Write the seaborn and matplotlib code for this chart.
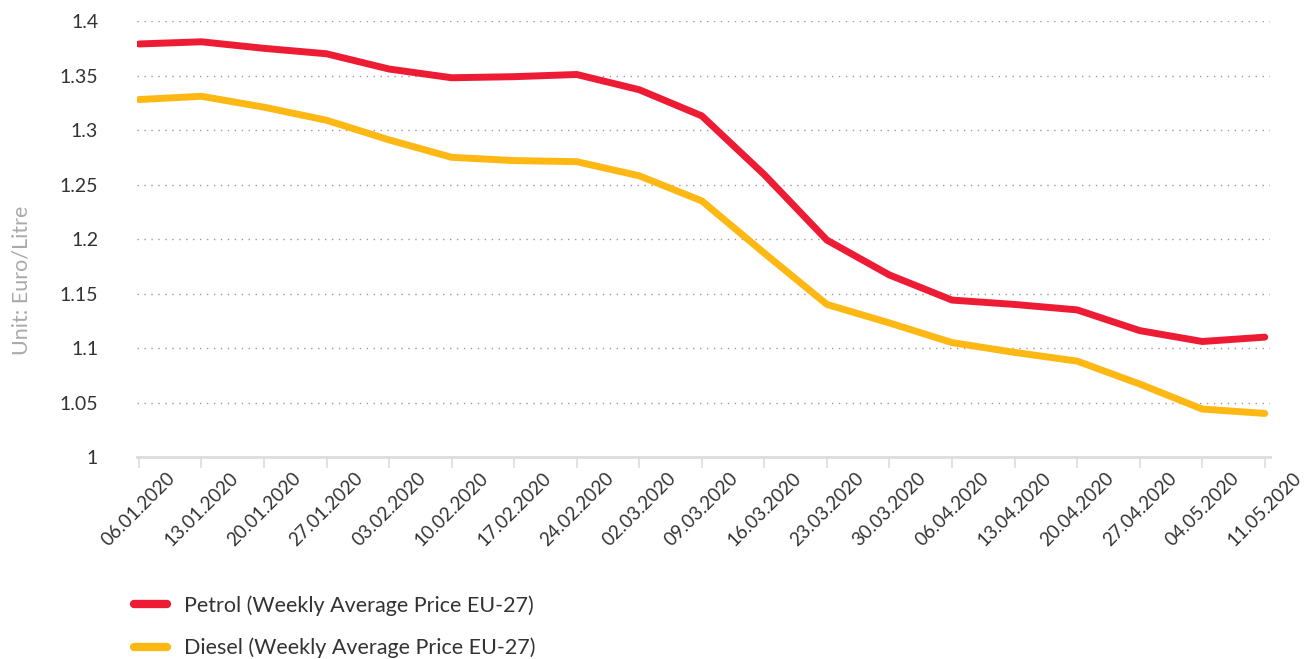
import seaborn as sns
import matplotlib.pyplot as plt
import pandas as pd
from matplotlib.lines import Line2D

dates = ["06.01.2020", "13.01.2020", "20.01.2020", "27.01.2020", "03.02.2020",
         "10.02.2020", "17.02.2020", "24.02.2020", "02.03.2020", "09.03.2020",
         "16.03.2020", "23.03.2020", "30.03.2020", "06.04.2020", "13.04.2020",
         "20.04.2020", "27.04.2020", "04.05.2020", "11.05.2020"]
petrol = [1.379, 1.381, 1.375, 1.370, 1.356, 1.348, 1.349, 1.351, 1.337, 1.313,
          1.259, 1.199, 1.167, 1.144, 1.140, 1.135, 1.116, 1.106, 1.110]
diesel = [1.328, 1.331, 1.321, 1.309, 1.291, 1.275, 1.272, 1.271, 1.258, 1.235,
          1.187, 1.140, 1.123, 1.105, 1.096, 1.088, 1.067, 1.044, 1.040]
series = ["Petrol (Weekly Average Price EU-27)", "Diesel (Weekly Average Price EU-27)"]
colors = ["#ED1C34", "#FDB814"]

sns.set_style("white")
plt.rcParams['font.family'] = ['Lato', 'DejaVu Sans']

df = pd.concat([
    pd.DataFrame({"pos": range(len(dates)), "price": petrol, "fuel": series[0]}),
    pd.DataFrame({"pos": range(len(dates)), "price": diesel, "fuel": series[1]}),
])

fig = plt.figure(figsize=(13.05, 6.59), dpi=100)
ax = fig.add_axes([0.105, 0.3065, 0.868, 0.6615])

sns.lineplot(data=df, x="pos", y="price", hue="fuel", palette=colors, linewidth=5,
             legend=False, ax=ax, solid_capstyle="round", solid_joinstyle="round")

ax.set_ylim(1.0, 1.4)
ax.set_xlim(-0.03, 18.08)
ax.set_yticks([1.0, 1.05, 1.1, 1.15, 1.2, 1.25, 1.3, 1.35, 1.4])
ax.set_yticklabels(["1", "1.05", "1.1", "1.15", "1.2", "1.25", "1.3", "1.35", "1.4"])
ax.set_xticks(range(len(dates)))
ax.set_xticklabels(dates, rotation=45, ha="center")
ax.tick_params(axis="y", length=0, pad=28, labelsize=14, labelcolor="#333333")
ax.tick_params(axis="x", length=8, width=1.2, color="#dddddd", labelsize=13.5,
               labelcolor="#333333", pad=1, bottom=True)
for lbl in ax.get_yticklabels():
    lbl.set_horizontalalignment("right")

ax.yaxis.grid(True, linestyle=(0, (1, 4)), color="#999999", linewidth=1)
ax.xaxis.grid(False)
for s in ["top", "right", "left"]:
    ax.spines[s].set_visible(False)
ax.spines["bottom"].set_color("#dddddd")
ax.spines["bottom"].set_linewidth(2)

ax.set_xlabel("")
ax.set_ylabel("Unit: Euro/Litre", fontsize=15.5, color="#aaaaaa")
ax.yaxis.set_label_coords(-0.093, 0.405)

handles = [Line2D([0], [0], color=c, linewidth=6, solid_capstyle="round") for c in colors]
fig.legend(handles, series, loc="lower left", bbox_to_anchor=(0.088, -0.028), frameon=False,
           fontsize=15.5, handlelength=1.5, labelspacing=1.0, handletextpad=0.8,
           labelcolor="#333333")

fig.savefig("out.png", dpi=100)
